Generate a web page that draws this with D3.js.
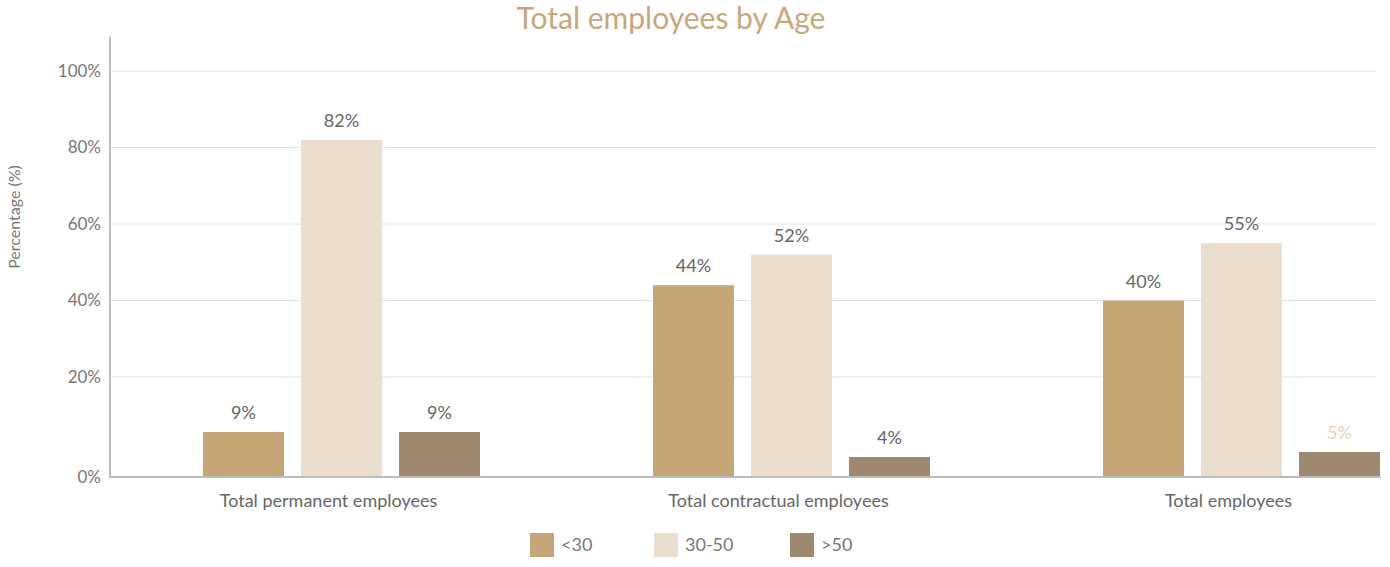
<!DOCTYPE html>
<html>
<head>
<meta charset="utf-8">
<script src="https://cdn.jsdelivr.net/npm/d3@7"></script>
<style>
  html, body { margin: 0; padding: 0; background: #fff; }
  svg { display: block; font-family: Lato, "Open Sans", sans-serif; }
</style>
</head>
<body>
<svg id="chart" width="1390" height="567"></svg>
<script>
// Categories and age bands
const categories = ["Total permanent employees", "Total contractual employees", "Total employees"];
const ageGroups = ["<30", "30-50", ">50"];

// Share of each age band per category (%)
const under30 = [9, 44, 40];
const from30to50 = [82, 52, 55];
const over50 = [9, 4, 5];

const yTicks = [0, 20, 40, 60, 80, 100];
const colors = ["#c6a577", "#ecdecf", "#9e8970"];

const seriesValues = [under30, from30to50, over50];
const rows = categories.map((c, i) => ({
  category: c,
  values: ageGroups.map((g, j) => ({ group: g, value: seriesValues[j][i], idx: j }))
}));

const svg = d3.select("#chart");

const left = 110, right = 1376, baseY = 477;

// Value axis: the bottom step is stretched relative to the rest
const y = d3.scaleLinear()
  .domain([0, 20, 100, 109])
  .range([baseY, 377, 71, 36.6]);

const x0 = d3.scaleBand()
  .domain(categories)
  .range([116.5, 1466.5])
  .padding(0);

const x1 = d3.scaleBand()
  .domain(ageGroups)
  .range([0, x0.bandwidth()])
  .paddingInner(0.1735)
  .paddingOuter(0.8827);

const color = d3.scaleOrdinal().domain(ageGroups).range(colors);

// Title
svg.append("text")
  .attr("x", 671).attr("y", 29)
  .attr("text-anchor", "middle")
  .attr("fill", "#c8a77a")
  .style("font-size", "30px")
  .text("Total employees by Age");

// Gridlines
svg.append("g")
  .selectAll("line")
  .data(yTicks.filter(d => d > 0))
  .join("line")
  .attr("x1", left).attr("x2", right)
  .attr("y1", d => y(d)).attr("y2", d => y(d))
  .attr("stroke", "#e2e2e2").attr("stroke-width", 1);

// Y axis
const yAxis = svg.append("g")
  .attr("transform", `translate(${left},0)`)
  .call(d3.axisLeft(y).tickValues(yTicks).tickFormat(d => d + "%").tickSize(0).tickPadding(9));
yAxis.select(".domain").remove();
yAxis.selectAll("text")
  .attr("fill", "#777")
  .style("font-size", "17px")
  .style("font-family", "Lato, sans-serif");

svg.append("line")
  .attr("x1", left).attr("x2", left)
  .attr("y1", y(109)).attr("y2", baseY + 1)
  .attr("stroke", "#bdbdbd").attr("stroke-width", 2);

// Y axis title
svg.append("text")
  .attr("transform", `translate(20,${217}) rotate(-90)`)
  .attr("text-anchor", "middle")
  .attr("fill", "#777")
  .style("font-size", "16px")
  .text("Percentage (%)");

// Bars
const groups = svg.append("g")
  .selectAll("g")
  .data(rows)
  .join("g")
  .attr("transform", d => `translate(${x0(d.category)},0)`);

groups.selectAll("rect")
  .data(d => d.values)
  .join("rect")
  .attr("x", d => x1(d.group))
  .attr("width", x1.bandwidth())
  .attr("y", d => y(d.value))
  .attr("height", d => baseY - y(d.value))
  .attr("fill", d => color(d.group));

groups.selectAll("text")
  .data(d => d.values)
  .join("text")
  .attr("x", d => x1(d.group) + x1.bandwidth() / 2)
  .attr("y", d => y(d.value) - 13)
  .attr("text-anchor", "middle")
  .attr("fill", d => (d.idx === 2 && d.value === 5) ? "#e6d2b8" : "#666")
  .style("font-size", "18px")
  .text(d => d.value + "%");

// Baseline
svg.append("line")
  .attr("x1", left).attr("x2", 1381)
  .attr("y1", baseY).attr("y2", baseY)
  .attr("stroke", "#bdbdbd").attr("stroke-width", 2);

// Category axis
const xAxis = svg.append("g")
  .attr("transform", `translate(0,${baseY})`)
  .call(d3.axisBottom(x0).tickSize(0).tickPadding(17));
xAxis.select(".domain").remove();
xAxis.selectAll("text")
  .attr("dx", -13)
  .attr("fill", "#666")
  .style("font-size", "18px")
  .style("font-family", "Lato, sans-serif");

// Legend
const legendX = [530, 654, 790];
const legend = svg.append("g")
  .selectAll("g")
  .data(ageGroups)
  .join("g")
  .attr("transform", (d, i) => `translate(${legendX[i]},533)`);
legend.append("rect")
  .attr("width", 24).attr("height", 24)
  .attr("fill", d => color(d));
legend.append("text")
  .attr("x", 31).attr("y", 18)
  .attr("fill", "#777")
  .style("font-size", "18px")
  .text(d => d);
</script>
</body>
</html>
